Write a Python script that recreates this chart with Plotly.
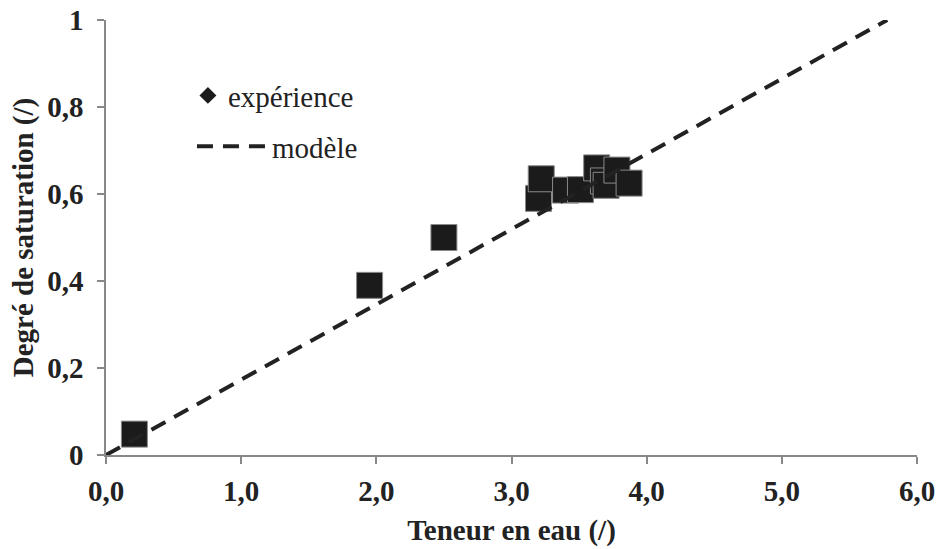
import plotly.graph_objects as go

# Mesures expérimentales
teneur = [0.21, 1.95, 2.50, 3.20, 3.22, 3.40, 3.51, 3.63, 3.68, 3.70, 3.78, 3.87]
saturation = [0.048, 0.39, 0.50, 0.59, 0.635, 0.609, 0.61, 0.66, 0.63, 0.62, 0.655, 0.625]

# Modèle linéaire
modele_x = [0.0, 5.78]
modele_y = [0.0, 1.0]

FONT = "Liberation Serif"
TXT = "#222222"

fig = go.Figure()

# points expérimentaux (carrés sombres)
fig.add_trace(
    go.Scatter(
        x=teneur,
        y=saturation,
        mode="markers",
        name="expérience",
        showlegend=False,
        marker=dict(symbol="square", size=26, color="#1b1b1b",
                    line=dict(color="#8a8a8a", width=1)),
    )
)

# entrée de légende (losange)
fig.add_trace(
    go.Scatter(
        x=[None],
        y=[None],
        mode="markers",
        name="expérience",
        legend="legend",
        marker=dict(symbol="diamond", size=13, color="#1b1b1b"),
    )
)

# modèle
fig.add_trace(
    go.Scatter(
        x=modele_x,
        y=modele_y,
        mode="lines",
        name="modèle",
        legend="legend2",
        line=dict(color="#222222", width=4, dash="16px,10px"),
    )
)

axis_common = dict(
    showgrid=False,
    zeroline=False,
    showline=True,
    automargin=False,
    ticklabeloverflow="allow",
    linecolor="#888888",
    linewidth=1.5,
    ticks="outside",
    ticklen=7,
    tickwidth=1.5,
    tickcolor="#888888",
    tickfont=dict(family=FONT, size=29, color=TXT, weight="bold"),
)

fig.update_xaxes(
    range=[0, 6],
    dtick=1,
    tickformat=".1f",
    ticklabelstandoff=2,
    title=dict(text="Teneur en eau (/)", standoff=14,
               font=dict(family=FONT, size=29, color=TXT, weight="bold")),
    **axis_common,
)
fig.update_yaxes(
    range=[0, 1],
    dtick=0.2,
    ticklabelstandoff=8,
    title=dict(text="Degré de saturation (/)", standoff=5,
               font=dict(family=FONT, size=29, color=TXT, weight="bold")),
    **axis_common,
)

legend_font = dict(family=FONT, size=29, color=TXT)
fig.update_layout(
    width=936,
    height=549,
    separators=", ",
    plot_bgcolor="white",
    paper_bgcolor="white",
    margin=dict(l=106, r=19, t=20, b=94),
    legend=dict(
        x=0.101, y=0.885, xanchor="left", yanchor="top",
        bgcolor="rgba(0,0,0,0)", font=legend_font, itemwidth=30,
    ),
    legend2=dict(
        x=0.106, y=0.768, xanchor="left", yanchor="top",
        bgcolor="rgba(0,0,0,0)", font=legend_font, itemwidth=70,
    ),
)

# pas de marge de page autour du graphique, pas de barre d'outils
fig.write_html(
    "out.html",
    config={"displayModeBar": False},
    post_script="document.body.style.margin = '0';",
)
